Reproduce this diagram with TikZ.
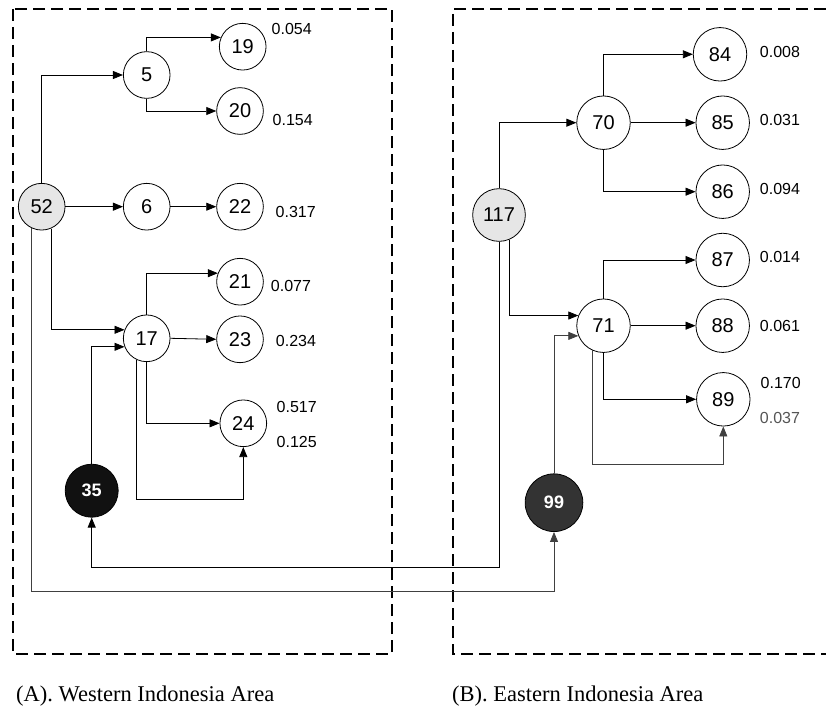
\documentclass[tikz,border=0pt]{standalone}
\usepackage{fontspec}
\setmainfont{Liberation Sans}
\newfontfamily\capfont{Liberation Serif}
\usetikzlibrary{arrows.meta}
\definecolor{lightfill}{HTML}{E6E6E6}
\definecolor{darkfill}{HTML}{333333}
\definecolor{blackfill}{HTML}{111111}
\definecolor{edgegray}{HTML}{404040}
\definecolor{labgray}{HTML}{555555}
\tikzset{
  vtx/.style={circle,draw=black,line width=0.8pt,fill=white,inner sep=0pt,
    minimum size=46.7pt,font=\fontsize{20}{24}\selectfont},
  vtxb/.style={vtx,minimum size=53.5pt},
  root/.style={fill=lightfill},
  sink/.style={circle,draw=black,line width=0.8pt,inner sep=0pt,text=white,
    font=\bfseries\fontsize{18}{22}\selectfont},
  lab/.style={inner sep=0pt,font=\fontsize{16}{19}\selectfont},
  captiontext/.style={inner sep=0pt,font=\capfont\fontsize{22.5}{27}\selectfont},
  conn/.style={line width=0.8pt,-{Triangle[length=10pt,width=8pt]}},
  conng/.style={conn,draw=edgegray,-{Triangle[length=10pt,width=8pt,fill=edgegray]}},
  area/.style={line width=1.6pt,dash pattern=on 12pt off 6pt}
}
\begin{document}
\begin{tikzpicture}[x=1pt,y=-1pt]
\useasboundingbox (0,0) rectangle (826,709);
% dashed areas
\draw[area] (13,9) rectangle (392,654);
\draw[area] (826,9) -- (453,9) -- (453,654) -- (826,654);
% left nodes
\node[vtx,root] (n52) at (41.7,206.7) {52};
\node[vtx] (n5) at (146.7,75) {5};
\node[vtx] (n19) at (242.7,46.7) {19};
\node[vtx] (n20) at (240,111) {20};
\node[vtx] (n6) at (146.7,206.7) {6};
\node[vtx] (n22) at (240,206.7) {22};
\node[vtx] (n21) at (240,281.7) {21};
\node[vtx] (n17) at (146.7,338.3) {17};
\node[vtx] (n23) at (240,339.3) {23};
\node[vtx] (n24) at (243.3,423.3) {24};
\node[sink,fill=blackfill,minimum size=53pt] (n35) at (91.7,490.7) {35};
% right nodes
\node[vtxb,root,minimum size=52.7pt] (n117) at (499,215) {117};
\node[vtxb] (n70) at (603.5,122.7) {70};
\node[vtxb] (n84) at (720,54.3) {84};
\node[vtxb] (n85) at (722.7,122.7) {85};
\node[vtxb] (n86) at (722.7,191.7) {86};
\node[vtxb] (n87) at (722.7,260) {87};
\node[vtxb] (n71) at (603.5,325.7) {71};
\node[vtxb] (n88) at (722.7,325.7) {88};
\node[vtxb] (n89) at (723.3,399.3) {89};
\node[sink,fill=darkfill,minimum size=57.7pt] (n99) at (554,502.7) {99};
% labels
\node[lab] (l19) at (291.7,29) {0.054};
\node[lab] (l20) at (292.7,120) {0.154};
\node[lab] (l22) at (295.7,211.7) {0.317};
\node[lab] (l21) at (291,285.7) {0.077};
\node[lab] (l23) at (296,341) {0.234};
\node[lab] (l24a) at (296.7,407.3) {0.517};
\node[lab] (l24b) at (296.7,442.3) {0.125};
\node[lab] (l84) at (780,51.7) {0.008};
\node[lab] (l85) at (780,120) {0.031};
\node[lab] (l86) at (780,189) {0.094};
\node[lab] (l87) at (780,257.3) {0.014};
\node[lab] (l88) at (780,325.7) {0.061};
\node[lab] (l89a) at (780.7,383.3) {0.170};
\node[lab,text=labgray] (l89b) at (780,417.7) {0.037};
% captions
\node[captiontext,anchor=base west] (capA) at (16,701) {(A). Western Indonesia Area};
\node[captiontext,anchor=base west] (capB) at (452,701) {(B). Eastern Indonesia Area};
% corner coordinates
\coordinate (y591) at (0,591);
\coordinate (y567) at (0,567.3);
\coordinate (y499) at (0,499);
\coordinate (y464) at (0,464);
% left connectors
\draw[conn] (n52.north) |- (n5.west);
\draw[conn] (n5.north) |- (n19.157);
\draw[conn] (n5.south) |- (n20.west);
\draw[conn] (n52.east) -- (n6.west);
\draw[conn] (n6.east) -- (n22.west);
\draw[conn] (n52.-67) |- (n17.159);
\draw[conn] (n17.north) |- (n21.159);
\draw[conn] (n17.east) -- (n23.west);
\draw[conn] (n17.south) |- (n24.west);
\draw[conn] (n17.-115) -- (n17.-115 |- y499) -| (n24.south);
\draw[conn] (n35.north) |- (n17.201);
% cross connectors
\draw[conng] (n52.-115) -- (n52.-115 |- y591) -| (n99.south);
\draw[conn] (n117.south) -- (n117.south |- y567) -| (n35.south);
% right connectors
\draw[conn] (n117.north) |- (n70.west);
\draw[conn] (n70.north) |- (n84.west);
\draw[conn] (n70.east) -- (n85.west);
\draw[conn] (n70.south) |- (n86.west);
\draw[conn] (n71.north) |- (n87.west);
\draw[conn] (n117.-68) |- (n71.158);
\draw[conng] (n99.north) |- (n71.202);
\draw[conn] (n71.east) -- (n88.west);
\draw[conn] (n71.south) |- (n89.west);
\draw[conng] (n71.-115) -- (n71.-115 |- y464) -| (n89.south);
\end{tikzpicture}
\end{document}
